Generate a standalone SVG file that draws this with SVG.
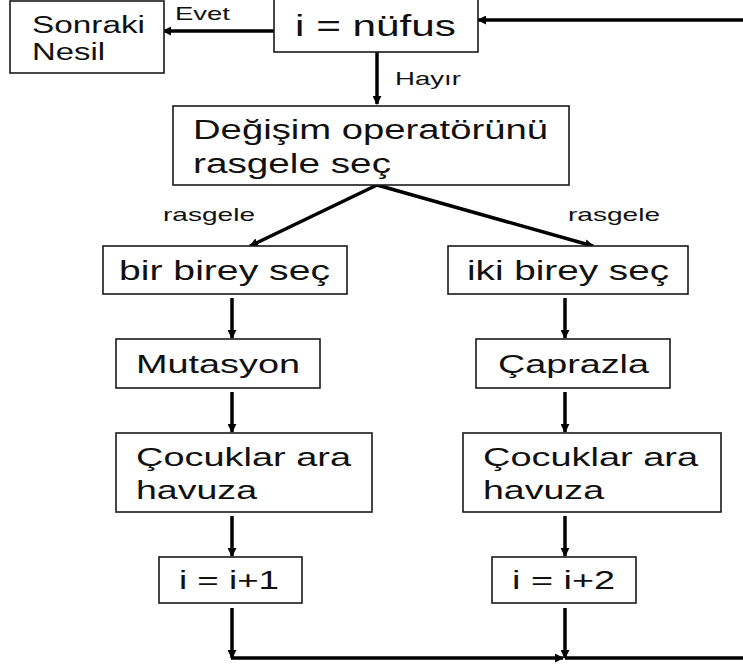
<svg xmlns="http://www.w3.org/2000/svg" width="743" height="665" viewBox="0 0 743 665">
<style>
.box{fill:#fff;stroke:#1a1a1a;stroke-width:1.6}
.t{font-family:"Liberation Sans",Arial,sans-serif;fill:#111}
.big{font-size:26px}
.sm{font-size:19px}
.c{fill:none;stroke:#000;stroke-width:3.5}
</style>
<defs>
<marker id="ah" viewBox="0 0 10 10" refX="9" refY="5" markerWidth="9" markerHeight="9" markerUnits="userSpaceOnUse" orient="auto">
<path d="M0,0 L10,5 L0,10 z" fill="#000"/>
</marker>
</defs>
<rect width="743" height="665" fill="#fff"/>
<g id="connectors">
<line class="c" x1="274" y1="31" x2="163" y2="31" stroke-width="2.8" marker-end="url(#ah)"/>
<line class="c" x1="743" y1="20" x2="478" y2="20" stroke-width="4.5" marker-end="url(#ah)"/>
<line class="c" x1="377" y1="52" x2="377" y2="104" marker-end="url(#ah)"/>
<line class="c" x1="377" y1="185" x2="250" y2="246" marker-end="url(#ah)"/>
<line class="c" x1="377" y1="185" x2="593" y2="246" marker-end="url(#ah)"/>
<line class="c" x1="232" y1="298" x2="232" y2="338" stroke-width="4" marker-end="url(#ah)"/>
<line class="c" x1="232" y1="392" x2="232" y2="432" stroke-width="4" marker-end="url(#ah)"/>
<line class="c" x1="232" y1="516" x2="232" y2="556" stroke-width="4" marker-end="url(#ah)"/>
<line class="c" x1="232" y1="608" x2="232" y2="658" stroke-width="4" marker-end="url(#ah)"/>
<line class="c" x1="565" y1="298" x2="565" y2="338" stroke-width="3" marker-end="url(#ah)"/>
<line class="c" x1="565" y1="392" x2="565" y2="432" stroke-width="3" marker-end="url(#ah)"/>
<line class="c" x1="565" y1="516" x2="565" y2="556" stroke-width="3" marker-end="url(#ah)"/>
<line class="c" x1="565" y1="608" x2="565" y2="658" stroke-width="3" marker-end="url(#ah)"/>
<line class="c" x1="231" y1="658" x2="563" y2="658" stroke-width="2.8" marker-end="url(#ah)"/>
<line class="c" x1="565" y1="658" x2="743" y2="658" stroke-width="4.5"/>
<text class="t sm" x="175" y="20" textLength="55" lengthAdjust="spacingAndGlyphs">Evet</text>
<text class="t sm" x="395" y="85" textLength="66" lengthAdjust="spacingAndGlyphs">Hayır</text>
<text class="t sm" x="163" y="221" textLength="92" lengthAdjust="spacingAndGlyphs">rasgele</text>
<text class="t sm" x="568" y="221" textLength="92" lengthAdjust="spacingAndGlyphs">rasgele</text>
</g>
<g id="sonraki">
<rect class="box" x="10" y="1" width="154" height="72"/>
<text class="t" font-size="23" x="32" y="33" textLength="113" lengthAdjust="spacingAndGlyphs">Sonraki</text>
<text class="t" font-size="23" x="32" y="60" textLength="73" lengthAdjust="spacingAndGlyphs">Nesil</text>
</g>
<g id="nufus">
<rect class="box" x="274" y="-1" width="204" height="53"/>
<text class="t" font-size="30" x="295" y="36" textLength="161" lengthAdjust="spacingAndGlyphs">i = nüfus</text>
</g>
<g id="degisim">
<rect class="box" x="173" y="106" width="396" height="79"/>
<text class="t" font-size="27" x="193" y="139" textLength="355" lengthAdjust="spacingAndGlyphs">Değişim operatörünü</text>
<text class="t" font-size="27" x="193" y="173" textLength="198" lengthAdjust="spacingAndGlyphs">rasgele seç</text>
</g>
<g id="bir">
<rect class="box" x="103" y="246" width="244" height="48"/>
<text class="t" font-size="27" x="119" y="280" textLength="211" lengthAdjust="spacingAndGlyphs">bir birey seç</text>
</g>
<g id="iki">
<rect class="box" x="448" y="246" width="240" height="48"/>
<text class="t" font-size="27" x="467" y="280" textLength="202" lengthAdjust="spacingAndGlyphs">iki birey seç</text>
</g>
<g id="mutasyon">
<rect class="box" x="116" y="339" width="204" height="49"/>
<text class="t big" x="136" y="373" textLength="164" lengthAdjust="spacingAndGlyphs">Mutasyon</text>
</g>
<g id="caprazla">
<rect class="box" x="476" y="339" width="194" height="49"/>
<text class="t big" x="498" y="373" textLength="151" lengthAdjust="spacingAndGlyphs">Çaprazla</text>
</g>
<g id="cocuklar1">
<rect class="box" x="116" y="433" width="256" height="79"/>
<text class="t big" x="136" y="466" textLength="215" lengthAdjust="spacingAndGlyphs">Çocuklar ara</text>
<text class="t big" x="136" y="499" textLength="121" lengthAdjust="spacingAndGlyphs">havuza</text>
</g>
<g id="cocuklar2">
<rect class="box" x="463" y="433" width="258" height="79"/>
<text class="t big" x="483" y="466" textLength="215" lengthAdjust="spacingAndGlyphs">Çocuklar ara</text>
<text class="t big" x="483" y="499" textLength="121" lengthAdjust="spacingAndGlyphs">havuza</text>
</g>
<g id="inc1">
<rect class="box" x="159" y="557" width="143" height="46"/>
<text class="t big" x="179" y="589" textLength="100" lengthAdjust="spacingAndGlyphs">i = i+1</text>
</g>
<g id="inc2">
<rect class="box" x="492" y="557" width="144" height="46"/>
<text class="t big" x="512" y="589" textLength="103" lengthAdjust="spacingAndGlyphs">i = i+2</text>
</g>
</svg>
